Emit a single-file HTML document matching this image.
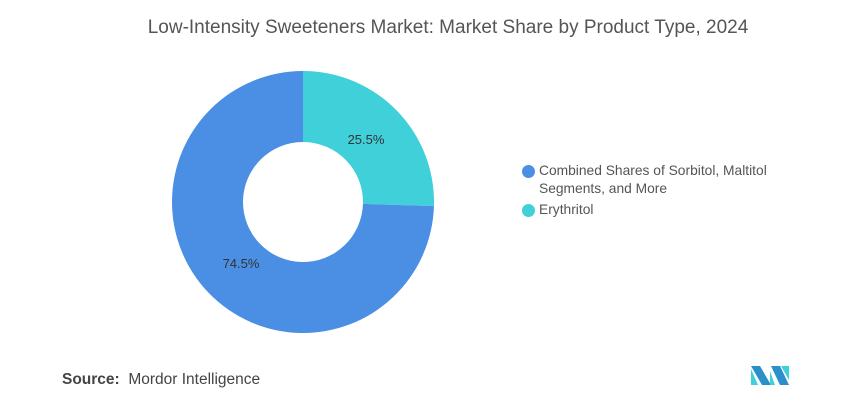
<!DOCTYPE html>
<html><head><style>
body{margin:0;width:868px;height:413px;background:#fff;font-family:"Liberation Sans",sans-serif;overflow:hidden;position:relative}
.t{position:absolute;top:17px;left:14px;width:868px;text-align:center;font-size:19px;color:#555}
.lg{position:absolute;left:539px;font-size:13.8px;color:#555;line-height:18px}
.dot{position:absolute;left:-17px;top:3px;width:13px;height:13px;border-radius:50%}
.src{position:absolute;left:62px;top:371px;font-size:15.5px;color:#444}
</style></head><body>
<div class="t">Low-Intensity Sweeteners Market: Market Share by Product Type, 2024</div>
<svg width="868" height="413" style="position:absolute;left:0;top:0">
<path d="M303,71 A131,131 0 0 1 433.94,206.1 L362.97,203.88 A60,60 0 0 0 303,142 Z" fill="#3fd0da"/>
<path d="M433.94,206.1 A131,131 0 1 1 303,71 L303,142 A60,60 0 1 0 362.97,203.88 Z" fill="#4a8fe3"/>
<text x="366" y="144" font-size="13" fill="#333" text-anchor="middle" font-family="Liberation Sans">25.5%</text>
<text x="241" y="268" font-size="13" fill="#333" text-anchor="middle" font-family="Liberation Sans">74.5%</text>
<polygon points="751,366 760,366 771,385 762,385" fill="#2b8fc9"/>
<polygon points="751,369 758,385 751,385" fill="#3fd0da"/>
<polygon points="771,366 780,366 789,385 780,385" fill="#2b8fc9"/>
<polygon points="781,366 789,366 789,380" fill="#3fd0da"/>
<polygon points="770,371 775,385 770,385" fill="#3fd0da"/>
</svg>
<div class="lg" style="top:162px"><span class="dot" style="background:#4a8fe3"></span>Combined Shares of Sorbitol, Maltitol<br>Segments, and More</div>
<div class="lg" style="top:201px"><span class="dot" style="background:#3fd0da"></span>Erythritol</div>
<div class="src"><b>Source:</b>&nbsp; Mordor Intelligence</div>
</body></html>
